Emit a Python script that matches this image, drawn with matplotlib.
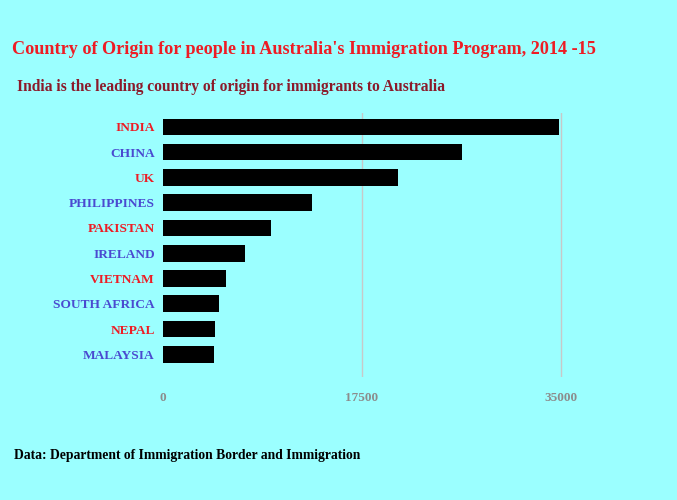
import matplotlib
matplotlib.use("Agg")
import matplotlib.pyplot as plt

# Data (approximate)
countries = ["INDIA", "CHINA", "UK", "PHILIPPINES", "PAKISTAN",
             "IRELAND", "VIETNAM", "SOUTH AFRICA", "NEPAL", "MALAYSIA"]
migrants = [34800, 26300, 20700, 13100, 9500, 7200, 5500, 4900, 4600, 4500]
x_ticks = [0, 17500, 35000]

title = "Country of Origin for people in Australia's Immigration Program, 2014 -15"
subtitle = "India is the leading country of origin for immigrants to Australia"
source = "Data: Department of Immigration Border and Immigration"

bg = "#9bffff"
red = "#ee1c24"
blue = "#4a4ad0"
fam = "Liberation Serif"

fig = plt.figure(figsize=(6.77, 5.0), dpi=100, facecolor=bg)
W, H = 677, 500
# axes: 0 at x=163, 35000 at x=561
left, right = 163, 163 + 398 * 37000 / 35000
top, bottom = 113, 377
ax = fig.add_axes([left / W, 1 - bottom / H, (right - left) / W, (bottom - top) / H])
ax.set_facecolor(bg)

ypos = list(range(len(countries)))
ax.barh(ypos, migrants, height=0.66, color="black", zorder=3)
ax.set_ylim(9.9, -0.55)
ax.set_xlim(0, 37000)

for t in x_ticks[1:]:
    ax.axvline(t, color="#c8c8c8", lw=1, zorder=1)

for s in ax.spines.values():
    s.set_visible(False)
ax.tick_params(length=0)
ax.set_yticks(ypos)
ax.set_yticklabels(countries, fontfamily=fam, fontweight="bold", fontsize=9.6)
for i, lab in enumerate(ax.get_yticklabels()):
    lab.set_color(red if i % 2 == 0 else blue)
ax.tick_params(axis="y", pad=6)

ax.set_xticks(x_ticks)
ax.set_xticklabels([str(t) for t in x_ticks], color="#8c8c8c", fontsize=9.5,
                   fontfamily=fam, fontweight="bold")
ax.tick_params(axis="x", pad=11)

fig.text(12 / W, 1 - 50 / H, title, color=red, fontsize=13.1, va="center",
         fontfamily=fam, fontweight="bold")
fig.text(17 / W, 1 - 87 / H, subtitle, color="#8b1a2a", fontsize=11.2, va="center",
         fontfamily=fam, fontweight="bold")
fig.text(14 / W, 1 - 456 / H, source, color="black", fontsize=9.8, va="center",
         fontfamily=fam, fontweight="bold")

fig.savefig("out.png", dpi=100, facecolor=bg)
